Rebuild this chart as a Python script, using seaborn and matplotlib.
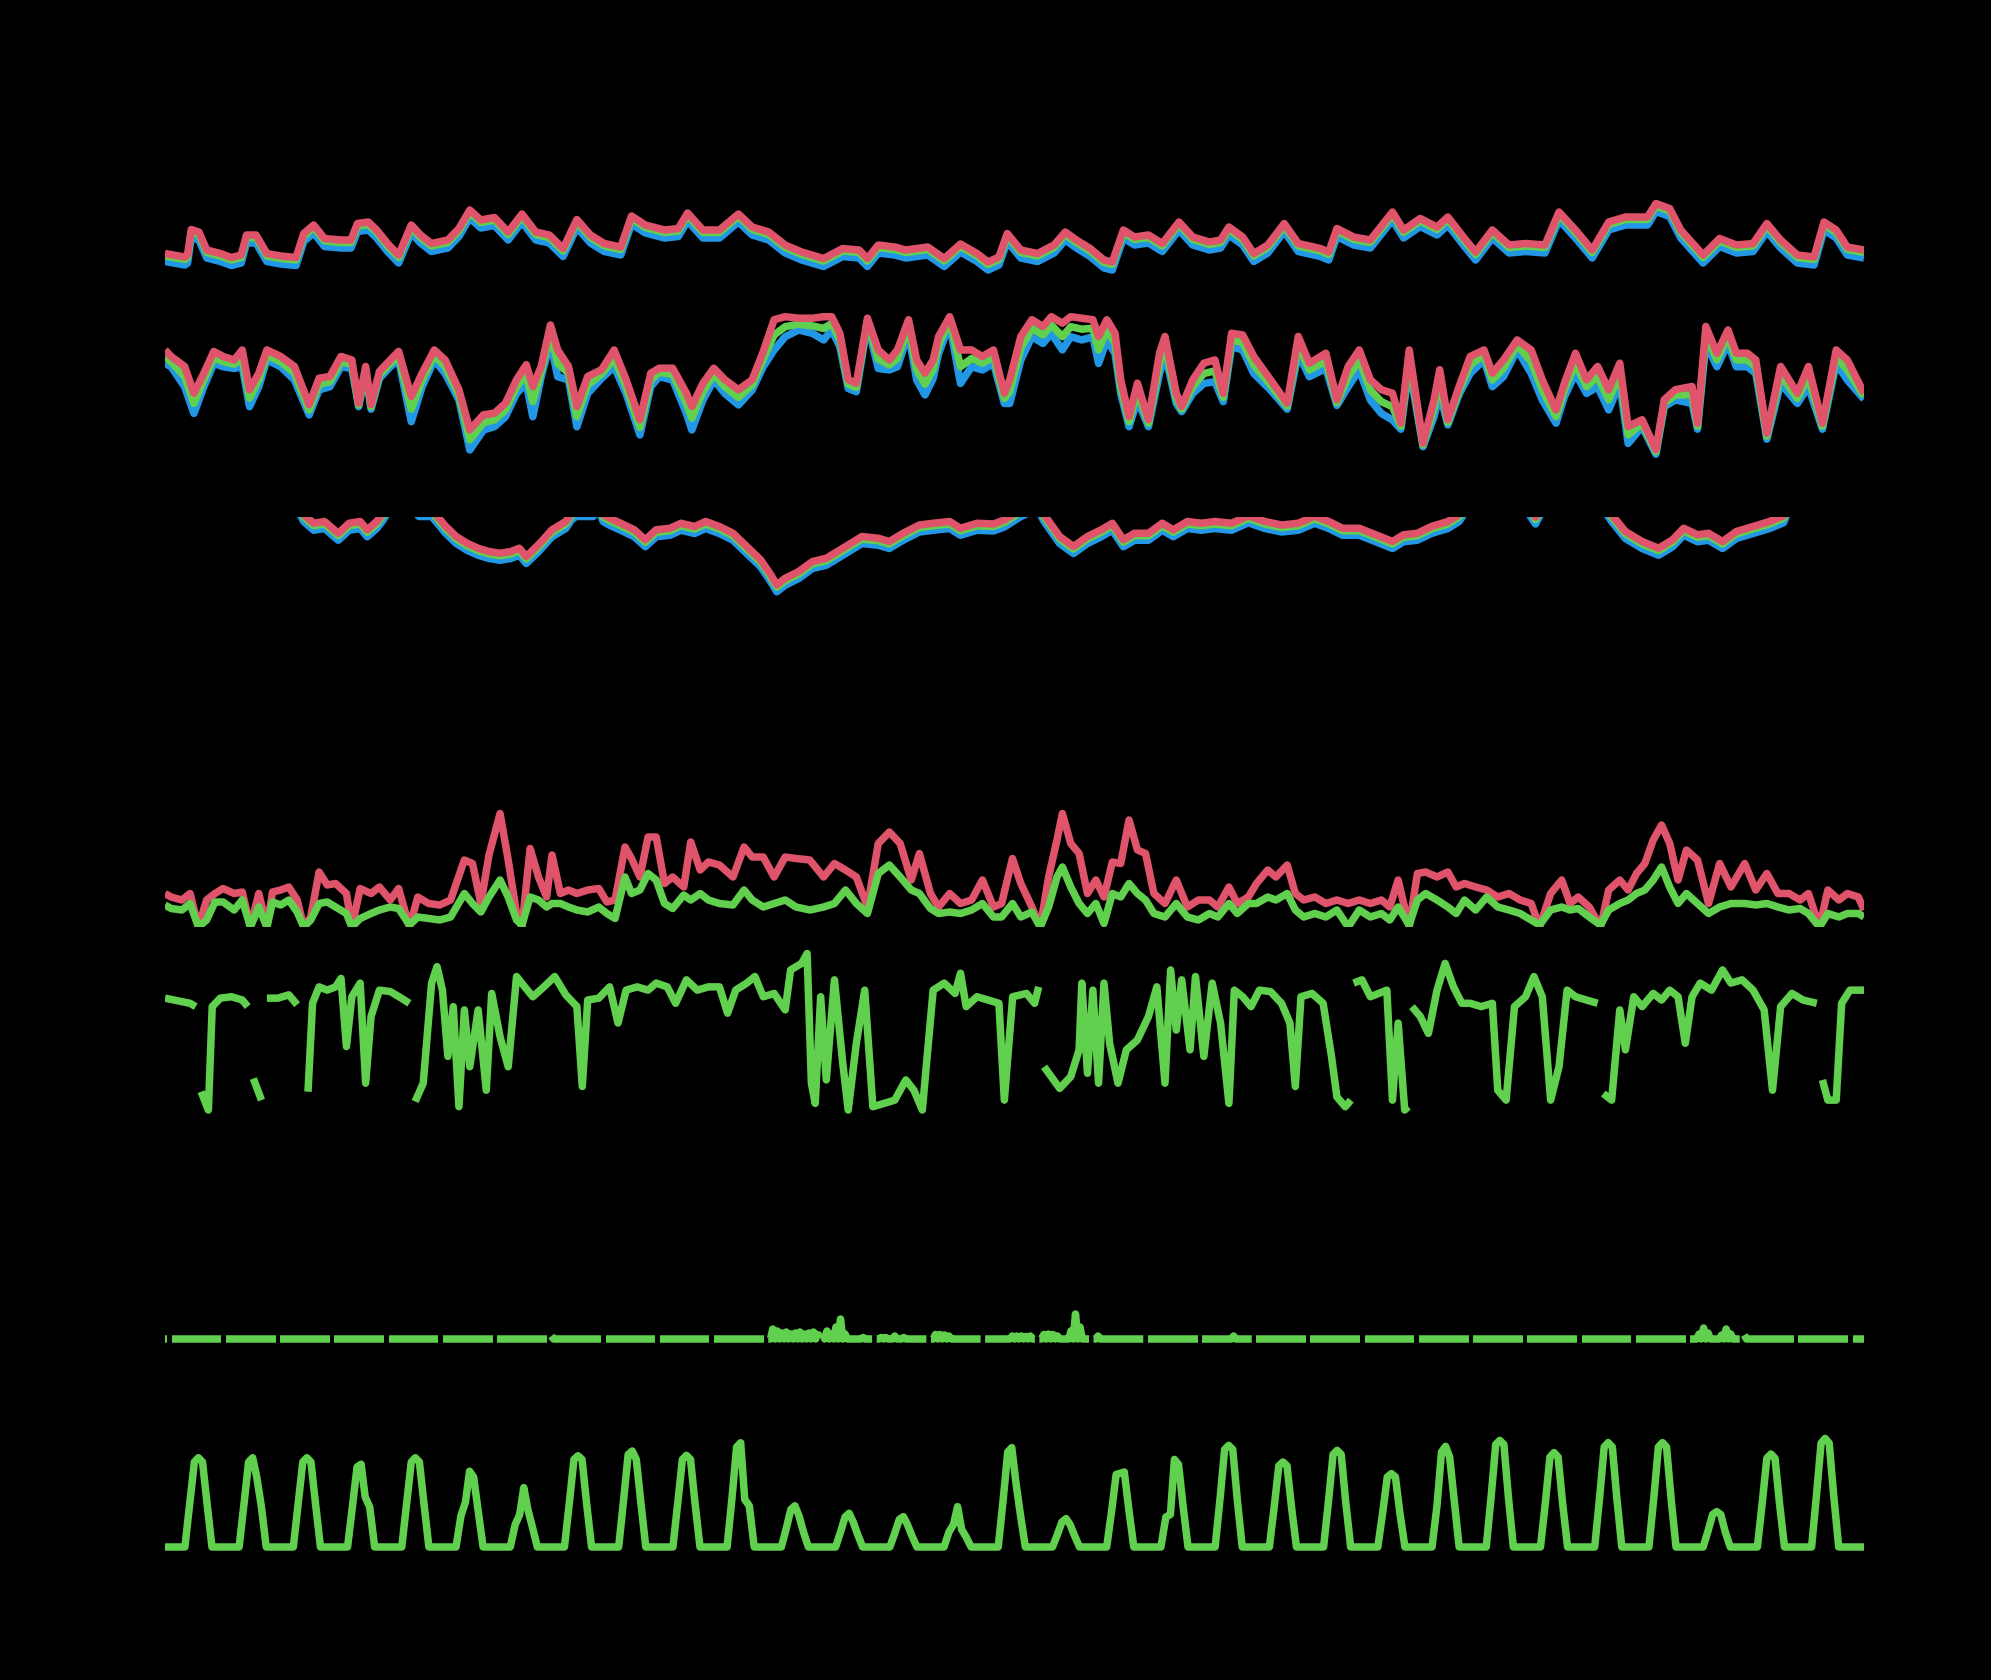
import matplotlib
matplotlib.use("Agg")
import matplotlib.pyplot as plt
import numpy as np
import pandas as pd
import seaborn as sns

nan = np.nan
RED, GREEN, BLUE = "#DF536B", "#61D04F", "#2297E6"

# ---------------------------------------------------------------- data
# time axis: hours since start of record (31 days + 8 h)
N_HOURS = 752

# panel 1 - temperature (degC), three sensors
temp_hours = [0, 8.8, 10.0, 11.6, 15.0, 18.5, 24.5, 29.4, 33.7, 36.1, 40.3, 45.1, 51.2, 58.0, 61.4, 65.8,
              70.6, 77.9, 82.3, 85.2, 90.0, 93.7, 98.5, 103.4, 109.0, 113.1, 117.9, 125.2, 130.1, 134.9,
              139.8, 145.8, 151.9, 158.0, 164.1, 170.1, 176.2, 182.3, 188.3, 194.4, 201.7, 206.5, 212.6,
              221.1, 227.2, 231.3, 238.1, 245.4, 253.8, 259.9, 267.2, 274.5, 281.8, 291.5, 300.0, 307.2,
              310.9, 315.7, 323.0, 327.9, 337.6, 344.9, 352.1, 359.4, 364.3, 369.1, 372.8,
              378.8, 386.2, 393.5, 398.5, 403.4, 409.5, 415.6, 419.3, 424.2, 429.1, 435.3, 441.4, 448.8,
              454.9, 462.3, 467.2, 470.9, 477.0, 481.9, 488.1, 495.4, 501.6, 511.4, 515.1, 518.7, 526.1,
              533.5, 543.3, 548.2, 555.6, 563.0, 567.8, 575.2, 580.1, 587.5, 594.9, 602.2, 610.8, 617.0,
              624.3, 631.7, 639.0, 646.4, 656.2, 659.9, 666.0, 670.9, 680.8, 688.1, 695.5, 702.9, 709.0,
              715.1, 722.5, 729.9, 734.3, 739.7, 744.6, 752.0]
temp_red = [10.7, 10.0, 10.4, 15.5, 15.0, 11.4, 10.7, 9.9, 10.4, 14.4, 14.4, 10.7, 10.2, 9.9, 14.7, 16.4,
            13.7, 13.4, 13.4, 16.7, 17.0, 15.4, 12.7, 10.4, 16.4, 14.4, 12.7, 13.4, 15.7, 19.4, 17.4, 17.9,
            15.0, 18.6, 15.0, 14.4, 11.7, 17.5, 14.4, 12.7, 12.0, 18.2, 16.4, 15.4, 15.7, 18.8, 15.4, 15.4,
            18.6, 16.0, 15.0, 12.4, 11.0, 9.7, 11.7, 11.4, 9.7, 12.4, 12.0, 11.4, 12.0, 9.7, 12.6, 10.7,
            9.0, 10.0, 14.7,
            11.4, 10.7, 12.4, 15.0, 13.4, 11.7, 9.4, 9.0, 15.4, 14.0, 14.4, 12.7, 17.0, 14.0, 13.0, 13.4,
            16.0, 14.0, 10.7, 12.4, 16.7, 12.7, 11.7, 11.0, 15.7, 14.0, 13.4, 19.0, 15.4, 17.7, 16.0, 18.0,
            13.7, 11.0, 15.4, 12.4, 12.7, 12.4, 19.0, 15.4, 11.4, 17.0, 18.0, 18.0, 20.7, 19.7, 15.4, 10.4,
            13.7, 12.4, 12.7, 16.7, 13.4, 10.4, 10.0, 17.0, 15.4, 12.0, 11.4]
temp_green = [10.2, 9.5, 9.9, 15.0, 14.5, 10.9, 10.2, 9.4, 9.9, 13.9, 13.9, 10.2, 9.7, 9.4, 14.2, 15.9,
              13.2, 12.9, 12.9, 16.2, 16.5, 14.9, 12.2, 9.9, 15.9, 13.9, 12.2, 12.9, 15.2, 18.9, 16.9, 17.4,
              14.5, 18.1, 14.5, 13.9, 11.2, 17.0, 13.9, 12.2, 11.5, 17.7, 15.9, 14.9, 15.2, 18.3, 14.9, 14.9,
              18.1, 15.5, 14.5, 11.9, 10.5, 9.2, 11.2, 10.9, 9.2, 11.9, 11.5, 10.9, 11.5, 9.2, 12.1, 10.2,
              8.5, 9.5, 14.2,
              10.9, 10.2, 11.9, 14.5, 12.9, 11.2, 8.9, 8.5, 14.9, 13.5, 13.9, 12.2, 16.5, 13.5, 12.5, 12.9,
              15.5, 13.5, 10.2, 11.9, 16.2, 12.2, 11.2, 10.5, 15.2, 13.5, 12.9, 18.5, 14.9, 17.2, 15.5, 17.5,
              13.2, 10.5, 14.9, 11.9, 12.2, 11.9, 18.5, 14.9, 10.9, 16.5, 17.5, 17.5, 20.2, 19.2, 14.9, 9.9,
              13.2, 11.9, 12.2, 16.2, 12.9, 9.9, 9.5, 16.5, 14.9, 11.5, 10.9]
temp_blue = [9.1, 8.4, 8.8, 13.9, 13.4, 9.8, 9.1, 8.3, 8.8, 12.8, 12.8, 9.1, 8.6, 8.3, 13.1, 14.8,
             12.1, 11.8, 11.8, 15.1, 15.4, 13.8, 11.1, 8.8, 14.8, 12.8, 11.1, 11.8, 14.1, 17.8, 15.8, 16.3,
             13.4, 17.0, 13.4, 12.8, 10.1, 15.9, 12.8, 11.1, 10.4, 16.6, 14.8, 13.8, 14.1, 17.2, 13.8, 13.8,
             17.0, 14.4, 13.4, 10.8, 9.4, 8.1, 10.1, 9.8, 8.1, 10.8, 10.4, 9.8, 10.4, 8.1, 11.0, 9.1,
             7.4, 8.4, 13.1,
             9.8, 9.1, 10.8, 13.4, 11.8, 10.1, 7.8, 7.4, 13.8, 12.4, 12.8, 11.1, 15.4, 12.4, 11.4, 11.8,
             14.4, 12.4, 9.1, 10.8, 15.1, 11.1, 10.1, 9.4, 14.1, 12.4, 11.8, 17.4, 13.8, 16.1, 14.4, 16.4,
             12.1, 9.4, 13.8, 10.8, 11.1, 10.8, 17.4, 13.8, 9.8, 15.4, 16.4, 16.4, 19.1, 18.1, 13.8, 8.8,
             12.1, 10.8, 11.1, 15.1, 11.8, 8.8, 8.4, 15.4, 13.8, 10.4, 9.8]

# panel 2 - relative humidity (%), three sensors
rh_hours = [0, 2.7, 8.7, 12.8, 17.2, 21.6, 25.7, 30.6, 34.2, 37.4, 41.5, 45.1, 51.2, 57.3, 63.8, 68.2,
            73.0, 77.9, 82.7, 85.7, 88.8, 91.2, 94.9, 99.7, 103.4, 109.0, 113.8, 119.2, 124.0, 130.1,
            134.9, 141.0, 145.8, 150.7, 155.6, 159.9, 162.8, 166.5, 170.6, 173.8, 178.6, 182.3, 187.1,
            193.2, 198.8, 204.1, 210.2, 215.0, 218.7, 224.7, 230.8, 233.2, 238.1, 242.9, 247.8, 253.8,
            259.9, 264.8, 269.6, 274.5, 280.5, 286.6, 291.5, 295.1, 298.7, 302.4, 306.0, 310.9, 315.7,
            320.6, 324.2, 329.1, 332.7, 336.4, 340.0, 342.4, 347.3, 352.1, 357.0, 361.8, 366.7, 371.5,
            373.9, 378.8, 383.7, 388.6, 392.3, 397.2, 400.9, 405.8, 410.7, 413.2, 416.9, 420.5, 423.0,
            426.7, 430.4, 435.3, 440.2, 442.6, 447.6, 450.0, 454.9, 459.8, 464.7, 468.4, 472.1, 477.0,
            481.9, 489.3, 496.7, 501.6, 506.5, 513.8, 518.7, 523.7, 528.6, 533.5, 538.4, 543.3, 547.0,
            550.7, 556.8, 561.7, 564.2, 567.8, 572.8, 577.7, 583.8, 587.5, 592.4, 598.5, 604.7, 609.6,
            615.7, 619.4, 624.3, 629.2, 634.1, 639.0, 643.9, 647.6, 653.8, 659.9, 663.6, 668.5, 675.9,
            678.3, 682.0, 686.9, 691.8, 695.5, 700.4, 704.1, 709.0, 715.1, 722.5, 727.4, 733.6, 739.7,
            744.6, 752.0]
rh_red = [86.7, 84.1, 80.1, 69.4, 77.4, 86.1, 84.1, 82.7, 86.7, 70.8, 77.4, 86.7, 84.1, 80.1, 64.8, 75.4,
          76.1, 84.1, 82.7, 65.4, 80.1, 64.8, 78.1, 82.7, 86.1, 68.1, 77.4, 86.7, 82.7, 70.8, 54.8, 60.8,
          61.4, 65.4, 74.8, 80.8, 72.0, 80.1, 96.7, 86.7, 80.1, 64.1, 76.1, 78.8, 86.7, 74.8, 58.8, 77.4,
          79.4, 79.4, 69.4, 64.1, 73.4, 79.4, 74.8, 70.8, 74.8, 86.1, 98.8, 100.0, 99.4, 99.4, 100.0, 100.0,
          93.4, 74.8, 73.4, 99.4, 86.7, 82.7, 86.7, 98.8, 82.7, 77.4, 82.7, 92.1, 100.0, 86.7, 86.7, 84.1,
          86.7, 69.4,
          74.8, 92.1, 98.8, 96.1, 100.0, 97.4, 100.0, 99.4, 98.8, 92.1, 98.8, 93.4, 74.8, 60.1, 73.4, 58.8,
          85.4, 92.1, 69.4, 64.1, 74.8, 81.4, 82.7, 69.4, 93.4, 92.7, 84.1, 74.8, 65.4, 92.1, 81.4, 85.4,
          66.8, 80.1, 86.7, 74.8, 70.8, 69.4, 57.4, 86.7, 49.4, 66.8, 78.8, 58.8, 72.1, 84.1, 86.7, 77.4,
          82.7, 90.7, 86.7, 74.8, 62.7, 73.4, 85.4, 74.8, 80.1, 70.8, 81.4, 56.1, 58.8, 46.8, 66.8, 70.8,
          72.1, 57.4, 96.1, 85.4, 94.7, 85.4, 85.4, 82.7, 53.4, 80.1, 69.4, 80.1, 57.4, 86.7, 82.7, 69.4]
rh_green = [84.0, 82.0, 76.0, 65.3, 74.7, 83.7, 82.0, 81.0, 83.3, 67.4, 74.7, 84.7, 82.0, 77.4, 62.7, 73.0,
            74.0, 82.0, 81.0, 64.7, 78.7, 63.9, 76.7, 81.3, 84.4, 63.0, 74.7, 84.7, 80.0, 68.7, 50.7, 57.7,
            58.7, 62.7, 72.0, 77.0, 66.0, 78.0, 93.3, 81.3, 77.4, 60.0, 72.7, 77.0, 83.3, 72.0, 55.7, 74.7,
            77.7, 77.0, 65.3, 59.4, 70.0, 77.0, 72.0, 67.7, 72.7, 83.0, 92.7, 96.0, 97.0, 96.3, 95.3, 97.3,
            90.7, 73.0, 71.7, 98.2, 83.0, 80.7, 83.3, 96.0, 78.7, 73.0, 79.0, 88.7, 98.5, 80.0, 83.3, 81.4,
            84.0, 67.3,
            70.0, 87.4, 95.4, 92.7, 96.7, 92.0, 96.0, 95.0, 95.4, 86.7, 94.7, 89.3, 72.0, 58.0, 70.0, 57.4,
            81.3, 88.7, 67.3, 63.0, 72.0, 77.3, 78.3, 67.7, 90.7, 89.7, 80.7, 72.7, 64.2, 88.7, 78.7, 82.3,
            65.6, 76.0, 82.7, 70.7, 66.0, 64.0, 56.2, 83.3, 48.7, 63.4, 74.0, 57.7, 70.5, 80.7, 84.7, 74.7,
            79.3, 88.7, 82.0, 70.7, 60.0, 70.7, 81.3, 72.0, 76.0, 66.7, 77.3, 52.7, 57.4, 45.9, 65.4, 68.7,
            68.7, 56.2, 92.7, 82.7, 92.0, 82.7, 82.7, 80.0, 52.2, 76.7, 67.3, 76.0, 56.2, 84.0, 78.7, 68.2]
rh_blue = [81.3, 80.0, 72.0, 61.3, 72.0, 81.3, 80.0, 79.3, 80.0, 64.0, 72.0, 82.7, 80.0, 74.7, 60.7, 70.7,
           72.0, 80.0, 79.3, 64.0, 77.3, 63.0, 75.3, 80.0, 82.7, 58.0, 72.0, 82.7, 77.3, 66.7, 46.7, 54.7,
           56.0, 60.0, 69.3, 73.3, 60.0, 76.0, 90.0, 76.0, 74.7, 56.0, 69.3, 75.3, 80.0, 69.3, 52.7, 72.0,
           76.0, 74.7, 61.3, 54.7, 66.7, 74.7, 69.3, 64.7, 70.7, 80.0, 86.7, 92.0, 94.7, 93.3, 90.7, 94.7,
           88.0, 71.3, 70.0, 97.0, 79.3, 78.7, 80.0, 93.3, 74.7, 68.7, 75.3, 85.3, 97.0, 73.3, 80.0, 78.7,
           81.3, 65.3,
           65.3, 82.7, 92.0, 89.3, 93.3, 86.7, 92.0, 90.7, 92.0, 81.3, 90.7, 85.3, 69.3, 56.0, 66.7, 56.0,
           77.3, 85.3, 65.3, 62.0, 69.3, 73.3, 74.0, 66.0, 88.0, 86.7, 77.3, 70.7, 63.0, 85.3, 76.0, 79.3,
           64.5, 72.0, 78.7, 66.7, 61.3, 58.7, 55.0, 80.0, 48.0, 60.0, 69.3, 56.7, 69.0, 77.3, 82.7, 72.0,
           76.0, 86.7, 77.3, 66.7, 57.4, 68.0, 77.3, 69.3, 72.0, 62.7, 73.3, 49.3, 56.0, 45.0, 64.0, 66.7,
           65.3, 55.0, 89.3, 80.0, 89.3, 80.0, 80.0, 77.3, 51.0, 73.3, 65.3, 72.0, 55.0, 81.3, 74.7, 67.0]

# panel 3 - humidity at second level (%), values above the axis top are cut off
rh2_hours = [0, 58.5, 61.4, 65.8, 70.6, 76.7, 81.5, 86.4, 89.5, 93.7, 96.1, 99.7, 109.4, 112.4, 118.0,
             120.4, 124.0, 128.9, 133.7, 138.6, 143.4, 148.3, 153.1, 156.8, 159.9, 165.3, 171.3, 177.4,
             179.8, 181.8, 189.5, 192.0, 193.9, 196.8, 201.7, 207.7, 212.6, 217.4, 223.5, 228.4, 234.4,
             239.3, 245.4, 251.4, 257.5, 263.6, 267.7, 270.8, 274.5, 280.5, 286.6, 292.7, 300.0, 308.5,
             315.7, 320.6, 326.7, 333.9, 340.0, 347.3, 352.1, 359.4, 366.7, 371.5, 378.8, 386.2, 389.1,
             396.0, 402.1, 408.3, 414.4, 419.3, 424.2, 429.1, 435.3, 441.4, 446.3, 452.5, 458.6, 464.7,
             472.1, 479.5, 486.8, 494.2, 501.6, 508.9, 515.1, 521.2, 528.6, 535.9, 543.3, 548.2, 554.3,
             560.5, 567.8, 572.8, 576.4, 602.2, 606.6, 610.1, 636.6, 640.3, 646.4, 653.8, 661.1, 667.3,
             672.2, 678.3, 683.2, 689.4, 695.5, 702.9, 710.2, 716.4, 718.8, 752.0]
rh2_red = [106, 106, 101.0, 97.5, 98.2, 93.5, 97.5, 98.2, 94.9, 98.2, 101.0, 106, 106, 103, 103, 100.5,
           96.5, 92.2, 89.5, 87.5, 86.2, 85.5, 86.2, 87.5, 84.2, 88.9, 94.9, 98.2, 101.5, 103, 103, 106,
           101, 99.5, 97.5, 94.9, 90.9, 94.9, 95.5, 97.5, 96.2, 98.2, 96.2, 93.5, 88.2, 82.9, 77.5, 72.9,
           75.5, 78.2, 82.2, 83.5, 87.5, 92.2, 91.5, 90.2, 93.5, 96.8, 97.5, 98.2, 95.5, 97.5, 97.2, 98.8,
           103, 106, 101, 92.2, 88.2, 92.2, 94.9, 97.5, 90.9, 93.5, 93.5, 97.5, 94.9, 98.2, 97.5, 98.2,
           97.5, 100.5, 98.2, 96.8, 97.5, 100.3, 98.2, 95.5, 95.5, 92.9, 90.2, 92.9, 93.5, 96.2, 98.2, 101,
           106, 106, 100, 106, 106, 101, 94.2, 90.2, 87.5, 90.9, 95.5, 92.9, 93.5, 90.2, 94.2, 96.2, 98.2,
           100.5, 106, 106]
rh2_green = [105, 105, 100.0, 96.5, 97.2, 92.5, 96.5, 97.2, 93.9, 97.2, 100.0, 105, 105, 102, 102, 99.5,
             95.5, 91.2, 88.5, 86.5, 85.2, 84.5, 85.2, 86.5, 83.2, 87.9, 93.9, 97.2, 100.5, 102, 102, 105,
             100, 98.5, 96.5, 93.9, 89.9, 93.9, 94.5, 96.5, 95.2, 97.2, 95.2, 92.5, 87.2, 81.9, 76.5, 71.9,
             74.5, 77.2, 81.2, 82.5, 86.5, 91.2, 90.5, 89.2, 92.5, 95.8, 96.5, 97.2, 94.5, 96.5, 96.2, 97.8,
             102, 105, 100, 91.2, 87.2, 91.2, 93.9, 96.5, 89.9, 92.5, 92.5, 96.5, 93.9, 97.2, 96.5, 97.2,
             96.5, 99.5, 97.2, 95.8, 96.5, 99.3, 97.2, 94.5, 94.5, 91.9, 89.2, 91.9, 92.5, 95.2, 97.2, 100,
             105, 105, 99, 105, 105, 100, 93.2, 89.2, 86.5, 89.9, 94.5, 91.9, 92.5, 89.2, 93.2, 95.2, 97.2,
             99.5, 105, 105]
rh2_blue = [103.2, 103.2, 98.2, 94.7, 95.4, 90.7, 94.7, 95.4, 92.1, 95.4, 98.2, 103.2, 103.2, 100.2, 100.2,
            97.7, 93.7, 89.4, 86.7, 84.7, 83.4, 82.7, 83.4, 84.7, 81.4, 86.1, 92.1, 95.4, 98.7, 100.2, 100.2,
            103.2, 98.2, 96.7, 94.7, 92.1, 88.1, 92.1, 92.7, 94.7, 93.4, 95.4, 93.4, 90.7, 85.4, 80.1, 74.7,
            70.1, 72.7, 75.4, 79.4, 80.7, 84.7, 89.4, 88.7, 87.4, 90.7, 94.0, 94.7, 95.4, 92.7, 94.7, 94.4,
            96.0, 100.2, 103.2, 98.2, 89.4, 85.4, 89.4, 92.1, 94.7, 88.1, 90.7, 90.7, 94.7, 92.1, 95.4, 94.7,
            95.4, 94.7, 97.7, 95.4, 94.0, 94.7, 97.5, 95.4, 92.7, 92.7, 90.1, 87.4, 90.1, 90.7, 93.4, 95.4,
            98.2, 103.2, 103.2, 97.2, 103.2, 103.2, 98.2, 91.4, 87.4, 84.7, 88.1, 92.7, 90.1, 90.7, 87.4,
            91.4, 93.4, 95.4, 97.7, 103.2, 103.2]

# panel 5 - wind gust (red) and mean wind speed (green), m/s
wind_hours = [0, 2.7, 7.5, 11.1, 14.8, 18.4, 22.1, 25.7, 30.6, 34.2, 37.8, 41.5, 45.1, 47.6, 51.2, 54.8,
              58.5, 61.4, 64.5, 68.2, 71.8, 75.5, 80.3, 82.7, 86.4, 91.2, 94.9, 99.7, 103.4, 108.2, 111.9,
              116.7, 121.6, 126.4, 132.5, 136.1, 139.8, 143.4, 148.3, 151.9, 155.6, 158.0, 161.6, 165.3,
              168.9, 171.3, 175.0, 178.6, 182.3, 187.1, 192.0, 195.6, 199.2, 203.6, 206.5, 210.2, 213.8,
              217.4, 221.1, 224.7, 229.6, 232.7, 236.9, 240.5, 245.4, 251.4, 256.3, 259.9, 264.8, 269.6,
              274.5, 279.3, 285.4, 291.5, 296.3, 301.2, 306.0, 310.9, 315.7, 320.6, 325.4, 330.3, 333.9,
              338.8, 342.4, 347.3, 352.1, 357.0, 361.8, 366.7, 370.3,
              375.1, 378.8, 383.7, 387.4, 391.1, 394.8, 397.2, 400.9, 404.6, 408.3, 412.0, 415.6, 419.3,
              423.0, 426.7, 430.4, 434.0, 437.7, 442.6, 447.6, 452.5, 457.4, 462.3, 466.0, 470.9, 474.6,
              479.5, 483.1, 488.1, 491.7, 496.7, 500.3, 504.0, 508.9, 513.8, 518.7, 523.7, 528.6, 533.5,
              538.4, 542.1, 545.8, 550.7, 554.3, 558.0, 563.0, 567.8, 571.5, 575.2, 580.1, 585.0, 589.9,
              594.9, 599.8, 604.7, 608.4, 613.3, 618.2, 621.9, 625.5, 630.4, 635.4, 639.0, 643.9, 647.6,
              651.3, 655.0, 658.7, 662.4, 666.0, 669.7, 673.4, 678.3, 683.2, 688.1, 693.1, 699.2, 704.1,
              709.0, 713.9, 718.8, 723.7, 727.4, 732.3, 736.0, 740.9, 744.6, 749.5, 752.0]
gust = [3.35, 3.0, 2.7, 3.35, 0, 2.7, 3.35, 3.85, 3.35, 3.5, 0, 3.35, 0, 3.5, 3.7, 4.0, 2.7, 0, 1.0, 5.5,
        4.2, 4.35, 3.35, 0, 3.85, 3.35, 4.0, 2.7, 3.85, 0, 3.0, 2.35, 2.2, 2.7, 6.7, 6.35, 2.35, 7.2, 11.35,
        6.7, 1.35, 0, 7.85, 5.0, 3.0, 7.2, 3.35, 3.7, 3.35, 3.7, 3.85, 2.5, 2.7, 8.0, 6.85, 5.0, 9.0, 9.0,
        4.35, 5.0, 4.0, 8.5, 5.7, 6.5, 6.2, 5.0, 8.0, 7.0, 7.0, 5.0, 7.0, 6.85, 6.7, 5.0, 6.35, 5.7, 5.0,
        2.0, 8.35, 9.5, 8.35, 4.7, 7.35, 3.35, 2.0, 3.35, 2.35, 2.7, 4.7, 2.0, 2.35,
        6.85, 4.35, 2.0, 0, 5.0, 8.7, 11.35, 8.35, 7.35, 3.35, 4.7, 3.0, 6.5, 6.35, 10.7, 7.7, 7.35, 3.35,
        2.35, 4.7, 2.0, 2.7, 2.7, 2.0, 4.0, 2.35, 3.0, 4.35, 5.7, 5.0, 6.2, 3.35, 2.7, 3.0, 2.35, 2.7,
        2.35, 2.7, 2.35, 2.7, 2.0, 4.7, 0, 5.35, 5.5, 5.0, 5.5, 4.0, 4.35, 4.0, 3.7, 3.0, 3.35, 2.7, 2.35,
        0, 3.35, 4.7, 2.35, 3.0, 2.0, 0, 3.7, 4.7, 3.7, 5.35, 6.35, 8.7, 10.2, 8.35, 4.7, 7.7, 6.7, 2.35,
        6.35, 4.0, 6.35, 3.7, 5.35, 3.35, 3.35, 2.7, 3.35, 0, 3.7, 2.7, 3.35, 3.0, 1.7]
speed = [2.2, 1.85, 1.7, 2.35, 0, 0.7, 2.5, 2.5, 1.7, 2.7, 0, 2.0, 0, 2.5, 2.2, 2.7, 1.5, 0, 0.7, 2.35,
         2.5, 2.0, 1.35, 0, 0.85, 1.35, 1.7, 2.0, 1.85, 0.2, 1.0, 0.85, 0.7, 1.0, 3.35, 2.35, 1.5, 3.0, 4.7,
         3.0, 0.7, 0.2, 3.0, 2.7, 2.0, 2.35, 2.35, 2.0, 1.7, 1.5, 2.0, 1.35, 0.85, 5.0, 3.35, 3.7, 5.35,
         4.7, 2.35, 1.85, 3.2, 2.7, 3.35, 2.7, 2.35, 2.2, 3.7, 2.7, 2.0, 2.35, 2.7, 2.0, 1.7, 2.0, 2.35,
         3.7, 2.35, 1.35, 5.35, 6.2, 5.0, 3.7, 3.35, 1.85, 1.35, 1.5, 1.35, 1.7, 2.35, 1.0, 1.0,
         2.35, 1.0, 1.5, 0, 2.0, 5.0, 6.0, 4.0, 2.35, 1.35, 2.35, 0.35, 3.35, 3.0, 4.35, 3.35, 2.7, 1.35,
         1.0, 2.35, 1.0, 0.7, 1.35, 1.0, 2.35, 1.35, 2.35, 2.35, 3.0, 2.7, 3.35, 1.7, 1.0, 1.35, 1.0, 1.7,
         0, 1.7, 1.0, 1.35, 0.7, 2.0, 0.2, 2.7, 3.35, 2.7, 2.0, 1.35, 2.7, 1.7, 3.0, 2.0, 1.7, 1.35, 0.7,
         0.2, 1.7, 2.0, 1.7, 1.85, 1.0, 0.2, 1.7, 2.35, 2.7, 3.35, 3.7, 4.7, 6.0, 4.0, 2.35, 3.35, 2.35,
         1.35, 2.0, 2.35, 2.35, 2.2, 2.35, 2.0, 1.7, 1.85, 1.35, 0, 1.35, 1.0, 1.35, 1.35, 1.0]

# panel 6 - wind direction (deg); nan = calm, no direction
dir_hours = [0, 11.1, 13.6, 14.8, 16.0, 19.2, 20.9, 24.5, 29.4, 34.2, 36.6, 38.0, 39.1, 42.7, 44.0, 45.1,
             50.0, 54.8, 58.5, 60.5, 63.3, 65.3, 68.2, 71.8, 75.5, 77.9, 80.3, 82.7, 86.4, 88.8, 91.2, 94.9,
             99.7, 104.6, 108.2, 109.5, 110.7, 114.3, 118.0, 120.4, 122.8, 125.2, 127.6, 130.1, 132.5,
             134.9, 138.6, 142.2, 144.6, 148.3, 151.9, 155.6, 159.2, 162.8, 167.7, 172.5, 177.4, 182.3,
             184.7, 187.1, 192.0, 196.8, 200.5, 204.1, 209.0, 213.8, 217.4, 222.3, 226.0, 230.8, 235.6,
             240.5, 245.4, 249.0, 252.6, 257.5, 261.1, 264.8, 269.6, 274.5, 276.9, 281.8, 284.2, 286.1,
             287.8, 290.2, 292.7, 296.3, 300.0, 302.4, 306.0, 309.7, 313.3, 318.2, 323.0, 327.9, 331.5,
             335.2, 340.0, 344.9, 349.7, 352.1, 354.6, 359.4, 364.3, 369.1, 371.5, 375.2, 381.3, 384.9,
             386.7, 387.6, 389.1, 396.0, 400.9, 404.6, 405.8, 408.3, 410.7, 413.2, 415.6, 418.1, 421.8,
             425.5, 430.4, 435.3, 439.0, 442.6, 445.1, 447.6, 450.0, 453.7, 456.1, 459.8, 463.5, 467.2,
             470.9, 473.3, 477.0, 480.7, 484.4, 489.3, 494.2, 497.9, 500.3, 502.8, 507.7, 512.6, 516.3,
             518.7, 522.4, 524.9, 525.5, 526.1, 529.8, 533.5, 537.2, 540.8, 543.3, 545.8, 548.7, 550.2,
             551.0, 551.9, 555.6, 559.2, 563.0, 566.6, 570.3, 574.0, 577.7, 582.6, 587.5, 589.9, 593.6,
             597.3, 602.2, 605.9, 609.6, 613.3, 617.0, 620.6, 624.3, 629.2, 634.1, 635.4, 636.6, 640.3,
             643.9, 646.4, 650.1, 653.8, 658.7, 662.4, 666.0, 669.7, 672.9, 675.9, 679.5, 684.5, 689.4,
             693.1, 698.0, 702.9, 707.8, 711.5, 715.1, 720.1, 725.0, 731.1, 732.4, 733.6, 736.0, 739.7,
             742.1, 745.8, 752.0]
dir_deg = [255, 244, 237, nan, 56, 17, 237, 255, 258, 251, 237, nan, 84, 38, nan, 255, 255, 262, 241, nan,
           56, 244, 279, 272, 279, 297, 152, 258, 287, 74, 216, 272, 269, 255, 244, nan, 35, 74, 287, 322,
           272, 131, 237, 24, 230, 109, 230, 59, 265, 173, 109, 301, 279, 258, 279, 301, 262, 237, 67, 251,
           255, 279, 202, 272, 279, 272, 287, 279, 244, 294, 272, 279, 279, 223, 272, 287, 301, 258, 265,
           230, 315, 329, 350, 74, 31, 258, 81, 294, 116, 17, 159, 272, 24, 31, 38, 81, 59, 17, 272, 287,
           265, 308, 237, 258, 251, 244, 38, 258, 265, 244, 279, nan, 109, 63, 88, 145, 287, 95, 272, 74,
           287, 159, 74, 145, 166, 216, 279, 74, 315, 187, 294, 145, 301, 131, 287, 202, 31, 272, 258, 237,
           272, 269, 244, 202, 67, 258, 265, 244, 131, 45, 24, 38, nan, 287, 294, 258, 265, 272, 38, 202,
           17, 24, nan, 237, 216, 180, 272, 329, 279, 244, 244, 237, 244, 59, 38, 237, 258, 301, 258, 38,
           109, 272, 258, 251, 244, nan, 52, 38, 230, 145, 258, 237, 265, 251, 272, 258, 159, 258, 287,
           272, 315, 287, 294, 272, 230, 59, 237, 265, 251, 244, nan, 81, 38, 38, 244, 272, 272]

# panel 7 - hourly precipitation (mm); one missing record each day
rain_hours = [171, 269, 271, 273, 275, 277, 279, 281, 283, 285, 287, 289, 291, 293, 295, 297, 299, 301,
              309, 317, 319, 323, 327, 341, 343, 345, 347, 375, 377, 379, 381, 383, 389, 391, 393, 395,
              401, 403, 405, 413, 473, 679, 681, 683, 689, 691, 693, 699]
rain_mm = [0.3, 1.0, 0.8, 0.6, 0.7, 0.5, 0.6, 0.7, 0.5, 0.6, 0.7, 0.8, 0.6, 0.8, 0.5, 1.2, 2.0, 0.5,
           0.15, 0.15, 0.15, 0.3, 0.15, 0.45, 0.45, 0.4, 0.3, 0.3, 0.3, 0.3, 0.25, 0.3, 0.45, 0.5, 0.45, 0.3,
           0.8, 2.5, 1.2, 0.3, 0.3, 0.5, 1.1, 0.6, 0.4, 1.0, 0.5, 0.4]
rain_missing_hours = [2, 26, 50, 74, 98, 122, 146, 170, 194, 218, 242, 266, 290, 314, 338, 362, 386, 410,
                      434, 458, 482, 506, 530, 554, 578, 602, 626, 650, 674, 698, 722, 746]

# panel 8 - global radiation (W/m2); daily curve sampled at these hours of day
solar_hour_of_day = [8.8, 11.0, 13.0, 14.8, 16.6, 18.6, 20.8]
solar_daily = [
    [0, 360, 680, 714, 680, 350, 0], [0, 350, 680, 714, 560, 330, 0], [0, 360, 680, 714, 680, 350, 0],
    [0, 330, 640, 662, 400, 320, 0], [0, 360, 680, 714, 680, 350, 0], [0, 250, 360, 606, 560, 290, 0],
    [0, 180, 260, 475, 300, 160, 0], [0, 360, 700, 730, 700, 350, 0], [0, 380, 740, 768, 700, 360, 0],
    [0, 360, 700, 733, 700, 350, 0], [0, 400, 800, 834, 380, 330, 0], [0, 150, 300, 330, 250, 120, 0],
    [0, 120, 240, 270, 200, 100, 0], [0, 110, 220, 243, 180, 90, 0], [0, 120, 180, 323, 140, 80, 0],
    [0, 380, 760, 795, 520, 260, 0], [0, 100, 200, 227, 180, 90, 0], [0, 290, 580, 590, 600, 300, 0],
    [0, 240, 260, 701, 660, 330, 0], [0, 390, 780, 813, 780, 380, 0], [0, 330, 650, 680, 650, 320, 0],
    [0, 370, 740, 773, 740, 360, 0], [0, 280, 560, 587, 560, 270, 0], [0, 330, 760, 805, 720, 380, 0],
    [0, 410, 820, 853, 820, 400, 0], [0, 360, 720, 755, 720, 350, 0], [0, 400, 800, 835, 800, 390, 0],
    [0, 400, 800, 835, 800, 390, 0], [0, 130, 260, 283, 260, 120, 0], [0, 360, 710, 744, 710, 350, 0],
    [0, 420, 830, 869, 830, 410, 0],
]

# ---------------------------------------------------------------- layout
FIG_W, FIG_H = 1991, 1680
LEFT_PX, RIGHT_PX = 165, 1864
LW = 5.4

# pixel rows of each panel and the value range they show
PANELS = {
    "temp": (180, 290, (3.4, 25.4)),
    "rh": (300, 470, (38.68, 106.68)),
    "rh2": (517, 600, (66.8, 100.0)),
    "wind": (800, 927, (0.0, 12.7)),
    "dir": (940, 1125, (-14.9, 378.7)),
    "rain": (1290, 1350, (-1.1, 4.9)),
    "solar": (1420, 1560, (-104, 1016)),
}


def to_frame(hours, values):
    df = pd.DataFrame({"hour": hours, "value": values})
    df["seg"] = df["value"].isna().cumsum()
    return df.dropna()


def draw(ax, hours, values, color):
    sns.lineplot(data=to_frame(hours, values), x="hour", y="value", units="seg",
                 estimator=None, color=color, linewidth=LW, legend=False, ax=ax)


sns.set_theme(style="white")
plt.rcParams["lines.solid_capstyle"] = "butt"
plt.rcParams["lines.solid_joinstyle"] = "round"

fig = plt.figure(figsize=(FIG_W / 100, FIG_H / 100), dpi=100, facecolor="black")
axes = {}
for name, (top, bottom, ylim) in PANELS.items():
    ax = fig.add_axes([LEFT_PX / FIG_W, 1 - bottom / FIG_H,
                       (RIGHT_PX - LEFT_PX) / FIG_W, (bottom - top) / FIG_H])
    ax.set_facecolor("black")
    axes[name] = ax

draw(axes["temp"], temp_hours, temp_blue, BLUE)
draw(axes["temp"], temp_hours, temp_green, GREEN)
draw(axes["temp"], temp_hours, temp_red, RED)

draw(axes["rh"], rh_hours, rh_blue, BLUE)
draw(axes["rh"], rh_hours, rh_green, GREEN)
draw(axes["rh"], rh_hours, rh_red, RED)

draw(axes["rh2"], rh2_hours, rh2_blue, BLUE)
draw(axes["rh2"], rh2_hours, rh2_green, GREEN)
draw(axes["rh2"], rh2_hours, rh2_red, RED)

draw(axes["wind"], wind_hours, gust, RED)
draw(axes["wind"], wind_hours, speed, GREEN)

draw(axes["dir"], dir_hours, dir_deg, GREEN)

rain_hourly = np.zeros(N_HOURS + 1)
rain_hourly[rain_hours] = rain_mm
rain_hourly[rain_missing_hours] = np.nan
draw(axes["rain"], np.arange(N_HOURS + 1), rain_hourly, GREEN)

solar_hours, solar_vals = [0.0], [0.0]
for day, vals in enumerate(solar_daily):
    solar_hours += [24 * day + h for h in solar_hour_of_day]
    solar_vals += vals
solar_hours.append(N_HOURS)
solar_vals.append(0.0)
draw(axes["solar"], solar_hours, solar_vals, GREEN)

for name, (top, bottom, ylim) in PANELS.items():
    ax = axes[name]
    ax.set_xlim(0, N_HOURS)
    ax.set_ylim(*ylim)
    ax.axis("off")

fig.savefig("out.png", dpi=100, facecolor="black")
